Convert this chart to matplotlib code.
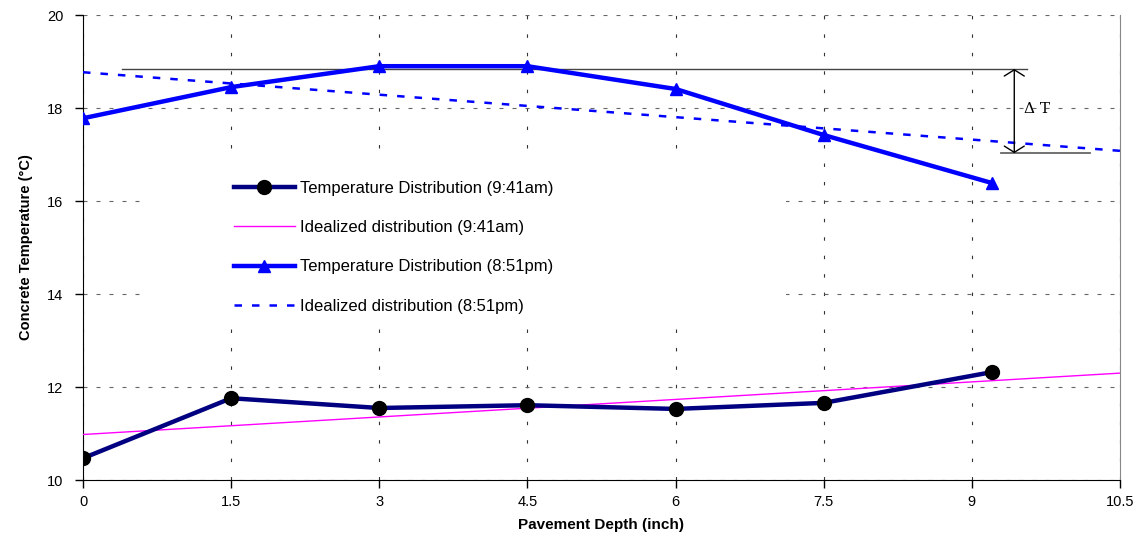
import matplotlib
matplotlib.use("Agg")
import matplotlib.pyplot as plt
from matplotlib.patches import Rectangle

plt.rcParams['font.family'] = ['Liberation Sans', 'DejaVu Sans']

depth_am = [0, 1.5, 3, 4.5, 6, 7.5, 9.2]
temp_am = [10.47, 11.76, 11.55, 11.61, 11.53, 11.66, 12.32]
depth_pm = [0, 1.5, 3, 4.5, 6, 7.5, 9.2]
temp_pm = [17.78, 18.45, 18.90, 18.90, 18.41, 17.42, 16.39]
ideal_x = [0, 10.5]
ideal_am = [10.98, 12.30]
ideal_pm = [18.77, 17.08]
labels = ["Temperature Distribution (9:41am)", "Idealized distribution (9:41am)",
          "Temperature Distribution (8:51pm)", "Idealized distribution (8:51pm)"]
xticks = [0, 1.5, 3, 4.5, 6, 7.5, 9, 10.5]
xticklabels = ["0", "1.5", "3", "4.5", "6", "7.5", "9", "10.5"]
yticks = [10, 12, 14, 16, 18, 20]
dt_top, dt_bot = 18.84, 17.03

fig = plt.figure(figsize=(11.37, 5.37), dpi=100)
ax = fig.add_axes([0.073, 0.106, 0.912, 0.866])

ax.plot(depth_am, temp_am, color='#000080', lw=3.2, marker='o', ms=10,
        mfc='black', mec='black', label=labels[0], zorder=5)
ax.plot(ideal_x, ideal_am, color='#FF00FF', lw=1, label=labels[1], zorder=4)
ax.plot(depth_pm, temp_pm, color='#0000FF', lw=3.2, marker='^', ms=9,
        mfc='#0000FF', mec='#0000FF', label=labels[2], zorder=5)
ax.plot(ideal_x, ideal_pm, color='#0000FF', lw=1.8, ls=(0, (3, 4)),
        label=labels[3], zorder=4)

# Delta T annotation
ax.plot([0.39, 9.56], [dt_top, dt_top], color='#444444', lw=1, zorder=3)
ax.plot([9.3, 10.2], [dt_bot, dt_bot], color='#666666', lw=1.3, zorder=3)
ax.annotate('', xy=(9.43, dt_top), xytext=(9.43, dt_bot),
            arrowprops=dict(arrowstyle='<->, head_width=0.4, head_length=0.25',
                            color='black', lw=1,
                            mutation_scale=18, shrinkA=0, shrinkB=0), zorder=6)
ax.text(9.53, 17.98, 'Δ T', fontsize=11, family=['DejaVu Serif'], va='center', ha='left')

ax.set_xlim(0, 10.5)
ax.set_ylim(10, 20)
ax.set_xticks(xticks)
ax.set_xticklabels(xticklabels)
ax.set_yticks(yticks)
ax.tick_params(axis='both', direction='out', length=6, width=1, labelsize=10.5)
ax.tick_params(axis='x', pad=5)
ax.tick_params(axis='y', pad=8)
ax.xaxis.grid(True, color='#333333', lw=0.8, ls=(0, (3.1, 13.5)))
ax.yaxis.grid(True, color='#666666', lw=0.8, ls=(0, (3.6, 8.1)))
ax.set_axisbelow(True)

# white legend background area covering the grid
ax.add_patch(Rectangle((0.66, 13.31), 7.12 - 0.66, 16.99 - 13.31,
                       facecolor='white', edgecolor='none', zorder=1))

ax.spines['left'].set_color('black')
ax.spines['bottom'].set_color('black')
ax.spines['right'].set_color('#888888')
ax.spines['top'].set_visible(False)

ax.set_xlabel('Pavement Depth (inch)', fontsize=11, fontweight='bold', labelpad=6)
ax.set_ylabel('Concrete Temperature (°C)', fontsize=10.5, fontweight='bold', labelpad=10)

leg = ax.legend(loc='upper left', bbox_to_anchor=(0.1456, 0.643), frameon=False,
                fontsize=12, handlelength=3.65, handletextpad=0.3, labelspacing=1.45,
                borderpad=0, borderaxespad=0)
leg.set_zorder(6)

fig.savefig('out.png', dpi=100)
